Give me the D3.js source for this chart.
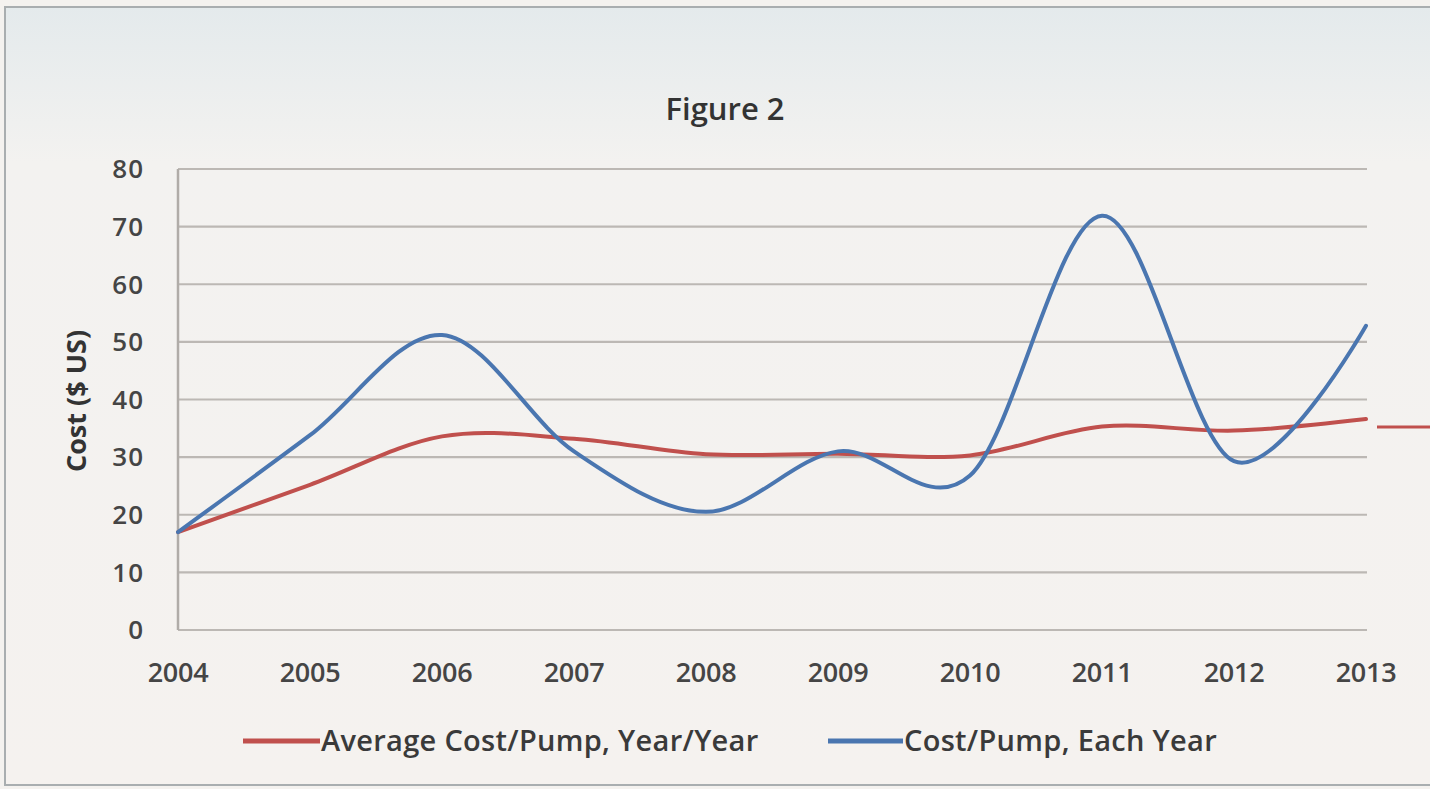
<!DOCTYPE html>
<html><head><meta charset="utf-8">
<script src="https://cdn.jsdelivr.net/npm/d3@7"></script>
<style>html,body{margin:0;padding:0;background:#f4f2ef;overflow:hidden}</style>
</head><body>
<svg id="c" width="1430" height="789"></svg>
<script>
const years = [2004,2005,2006,2007,2008,2009,2010,2011,2012,2013];
const avgCost = [17,25.2,33.6,33.2,30.5,30.6,30.3,35.3,34.6,36.6];
const eachCost = [17,33.8,51.2,31,20.5,31,26.8,71.9,29.3,52.8];
const yTicks = [0,10,20,30,40,50,60,70,80];
const seriesNames = ["Average Cost/Pump, Year/Year","Cost/Pump, Each Year"];
const colors = ["#c0504d","#4a76b0"];

const svg = d3.select("#c");
const defs = svg.append("defs");
const g = defs.append("linearGradient").attr("id","bg").attr("x1",0).attr("y1",0).attr("x2",0).attr("y2",1);
g.append("stop").attr("offset","0").attr("stop-color","#e4eaec");
g.append("stop").attr("offset","0.2").attr("stop-color","#f3f2f0");
g.append("stop").attr("offset","1").attr("stop-color","#f5f2ef");
svg.append("rect").attr("x",0).attr("y",0).attr("width",1430).attr("height",789).attr("fill","#f4f2ef");
svg.append("rect").attr("x",5).attr("y",7).attr("width",1440).attr("height",778)
  .attr("fill","url(#bg)").attr("stroke","#a9aeb0").attr("stroke-width",2);

const font = "'Open Sans', 'Liberation Sans', sans-serif";
const x = d3.scaleLinear().domain([2004,2013]).range([178,1366]);
const y = d3.scaleLinear().domain([0,80]).range([630,169]);

// gridlines
svg.append("g").selectAll("line").data(yTicks).join("line")
  .attr("x1",178).attr("x2",1367).attr("y1",d=>y(d)).attr("y2",d=>y(d))
  .attr("stroke","#bcb8b4").attr("stroke-width",2.2);
// y axis line
svg.append("line").attr("x1",178).attr("x2",178).attr("y1",y(80)).attr("y2",y(0))
  .attr("stroke","#b0aca8").attr("stroke-width",2.5);

// y tick labels
svg.append("g").selectAll("text").data(yTicks).join("text")
  .attr("x",144).attr("y",d=>y(d)).attr("dy","0.36em").attr("text-anchor","end")
  .attr("font-family",font).attr("font-size",26).attr("font-weight",600).attr("fill","#454545")
  .attr("letter-spacing","1")
  .text(d=>d);
// x tick labels
svg.append("g").selectAll("text").data(years).join("text")
  .attr("x",d=>x(d)).attr("y",682).attr("text-anchor","middle")
  .attr("font-family",font).attr("font-size",27).attr("font-weight",600).attr("fill","#454545")
  .attr("letter-spacing","-0.3")
  .text(d=>d);

// y axis title
svg.append("text").attr("transform","translate(86,401) rotate(-90)").attr("text-anchor","middle")
  .attr("font-family",font).attr("font-size",27).attr("font-weight",700).attr("fill","#333")
  .text("Cost ($ US)");
// title
svg.append("text").attr("x",725).attr("y",120).attr("text-anchor","middle")
  .attr("font-family",font).attr("font-size",31).attr("font-weight",600).attr("fill","#333")
  .text("Figure 2");

const line = d3.line().x((d,i)=>x(years[i])).y(d=>y(d)).curve(d3.curveCardinal.tension(0));
[avgCost,eachCost].forEach((s,k)=>{
  svg.append("path").attr("d",line(s)).attr("fill","none").attr("stroke",colors[k])
    .attr("stroke-width",4).attr("stroke-linejoin","round").attr("stroke-linecap","round");
});

// stray red stub at right
svg.append("line").attr("x1",1377).attr("x2",1430).attr("y1",427).attr("y2",427)
  .attr("stroke",colors[0]).attr("stroke-width",3);

// legend
const leg = [{x0:243,x1:320,tx:321},{x0:828,x1:903,tx:904}];
leg.forEach((L,k)=>{
  svg.append("line").attr("x1",L.x0).attr("x2",L.x1).attr("y1",741).attr("y2",741)
    .attr("stroke",colors[k]).attr("stroke-width",5);
  svg.append("text").attr("x",L.tx).attr("y",751).attr("font-family",font).attr("font-size",29)
    .attr("font-weight",600).attr("fill","#3a3a3a").attr("letter-spacing","0.3").text(seriesNames[k]);
});
</script>
</body></html>
